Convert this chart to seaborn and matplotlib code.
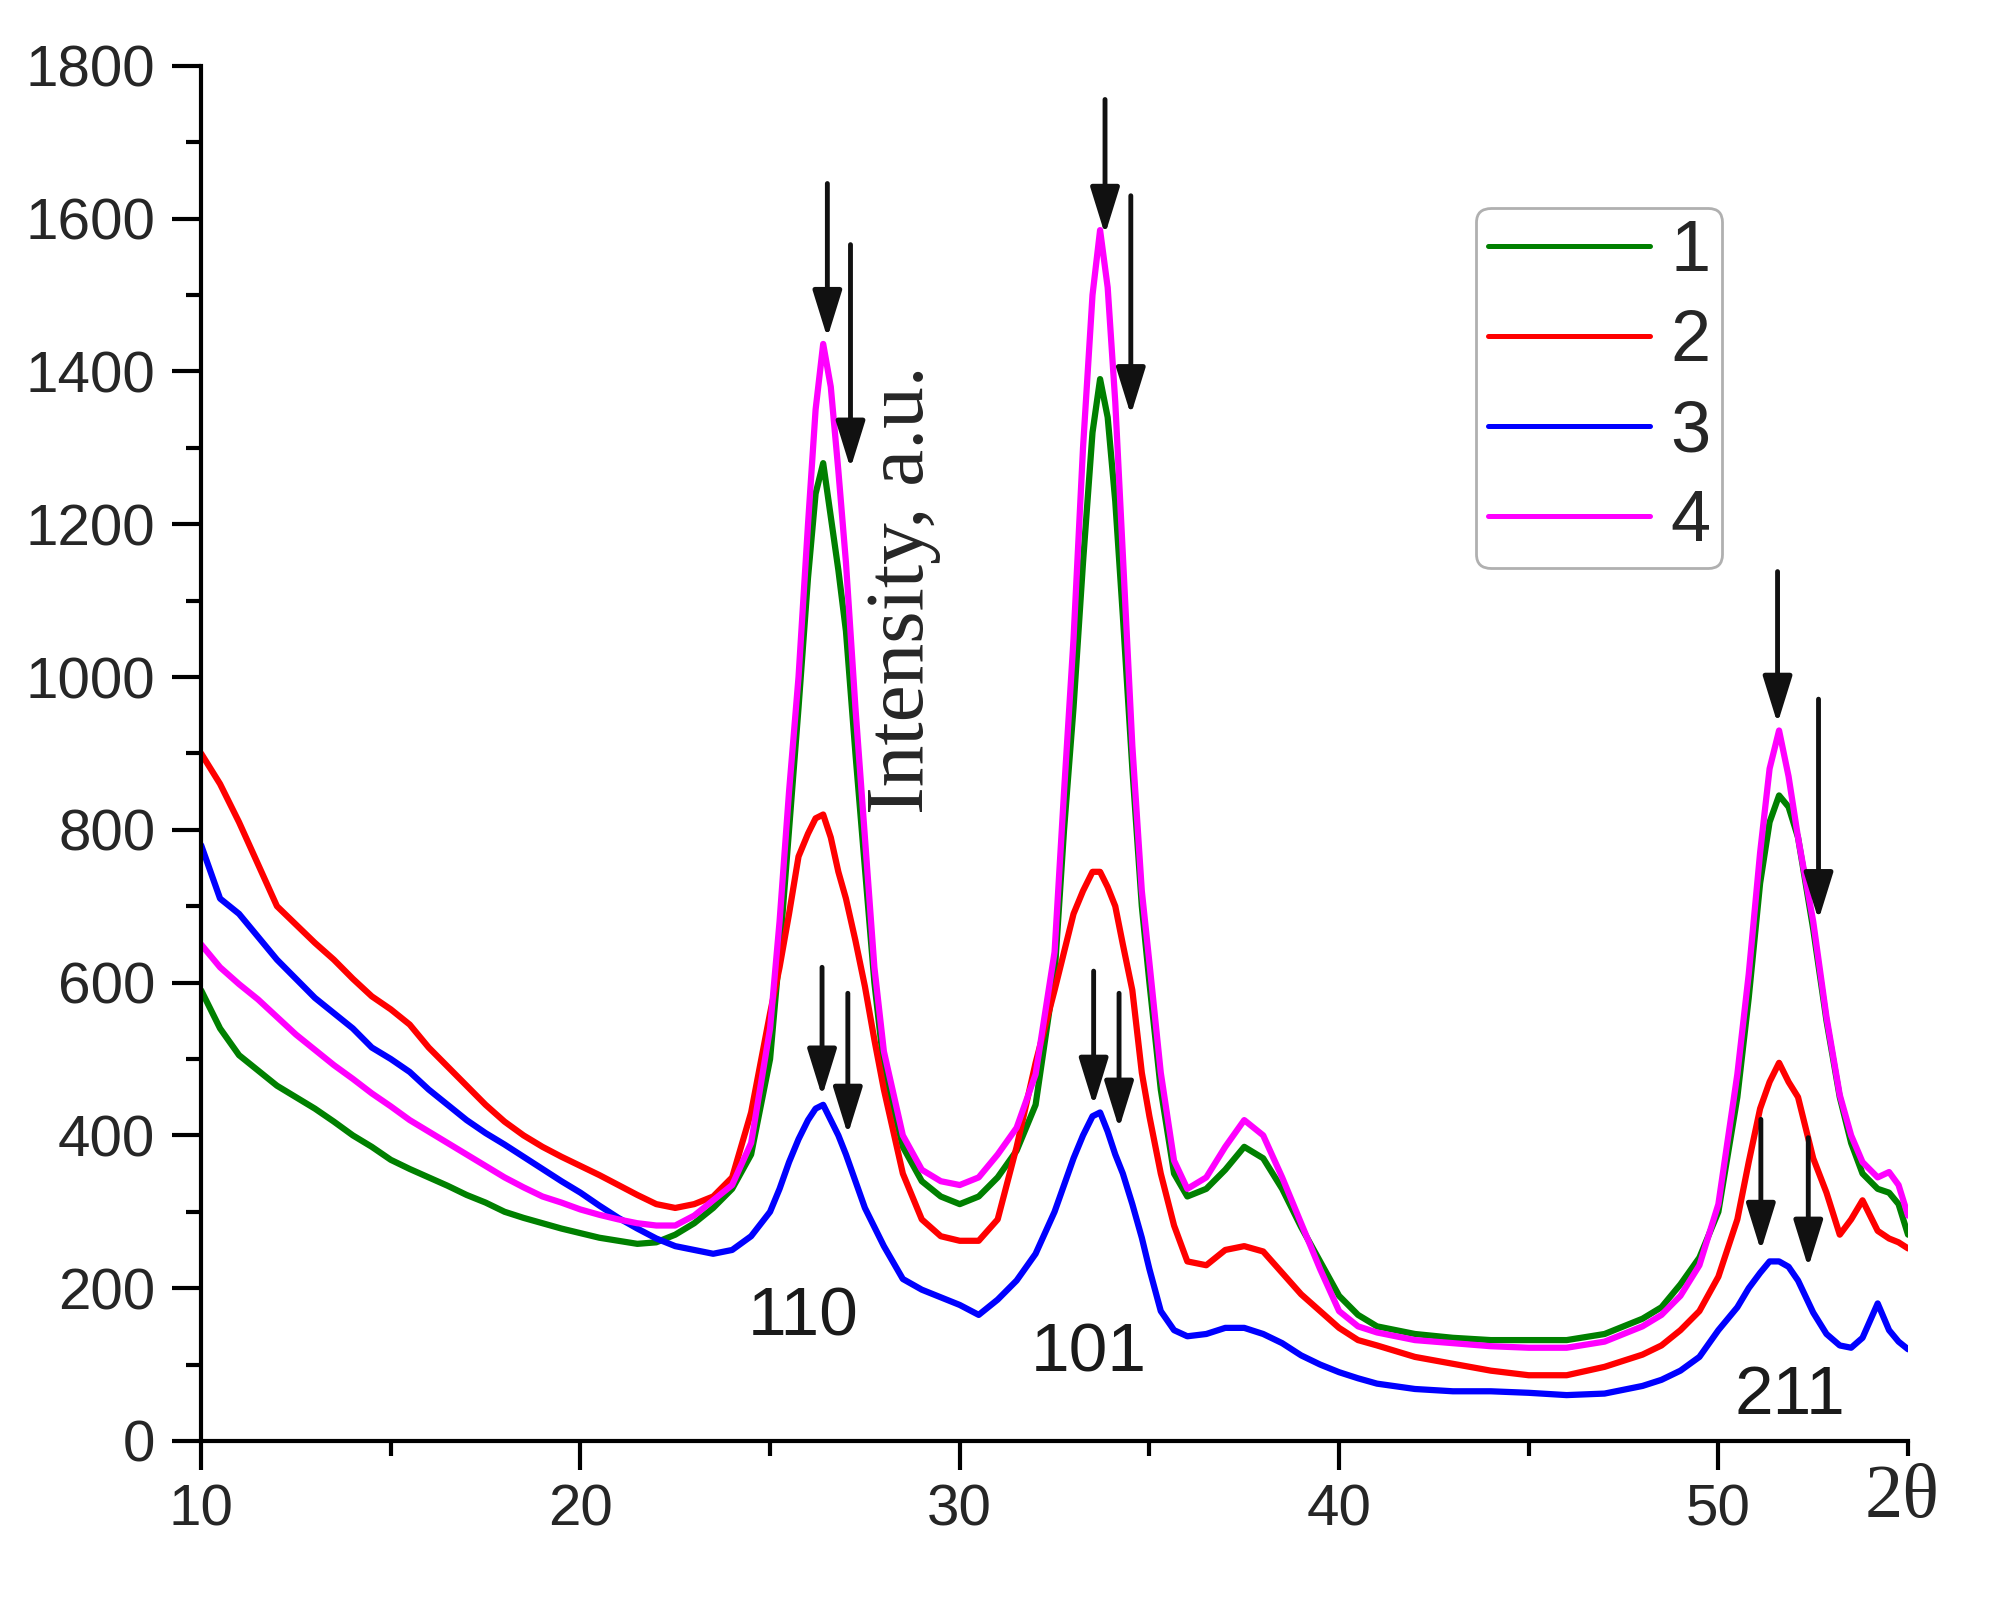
import pandas as pd
import matplotlib
matplotlib.use("Agg")
import matplotlib.pyplot as plt
import seaborn as sns
from matplotlib.lines import Line2D
from matplotlib.ticker import MultipleLocator

# === Данные ===
two_theta = [
    10, 10.5, 11, 11.5, 12, 12.5, 13, 13.5, 14, 14.5,
    15, 15.5, 16, 16.5, 17, 17.5, 18, 18.5, 19, 19.5,
    20, 20.5, 21, 21.5, 22, 22.5, 23, 23.5, 24, 24.5,
    25, 25.25, 25.5, 25.75, 26, 26.2, 26.4, 26.6, 26.8, 27,
    27.25, 27.5, 27.75, 28, 28.5, 29, 29.5, 30, 30.5, 31,
    31.5, 32, 32.5, 32.75, 33, 33.25, 33.5, 33.7, 33.9, 34.1,
    34.3, 34.55, 34.8, 35, 35.3, 35.65, 36, 36.5, 37, 37.5,
    38, 38.5, 39, 39.5, 40, 40.5, 41, 42, 43, 44,
    45, 46, 47, 48, 48.5, 49, 49.5, 50, 50.5, 50.8,
    51.1, 51.35, 51.6, 51.85, 52.1, 52.5, 52.85, 53.2, 53.5, 53.8,
    54.2, 54.5, 54.75, 55,
]

sample_1 = [
    590, 540, 505, 485, 465, 450, 435, 418, 400, 385,
    368, 356, 345, 334, 322, 312, 300, 292, 285, 278,
    272, 266, 262, 258, 260, 270, 285, 305, 330, 375,
    500, 640, 800, 960, 1130, 1240, 1280, 1210, 1140, 1060,
    900, 750, 600, 490, 385, 340, 320, 310, 320, 345,
    380, 440, 610, 800, 960, 1150, 1320, 1390, 1340, 1230,
    1080, 880, 700, 600, 460, 350, 320, 330, 355, 385,
    370, 330, 280, 235, 190, 165, 150, 140, 135, 132,
    132, 132, 140, 160, 175, 205, 240, 300, 450, 580,
    730, 810, 845, 830, 790, 670, 550, 450, 390, 350,
    330, 325, 310, 270,
]

sample_2 = [
    900, 860, 810, 755, 700, 676, 652, 630, 605, 582,
    565, 545, 515, 490, 465, 440, 418, 400, 385, 372,
    360, 348, 335, 322, 310, 305, 310, 320, 345, 430,
    560, 620, 690, 765, 795, 815, 820, 790, 745, 710,
    655, 595, 525, 460, 350, 290, 268, 262, 262, 290,
    385, 495, 590, 640, 690, 720, 745, 745, 725, 700,
    650, 590, 482, 425, 350, 282, 235, 230, 250, 255,
    248, 220, 192, 170, 148, 132, 125, 110, 101, 92,
    86, 86, 97, 113, 125, 145, 170, 215, 290, 365,
    435, 470, 495, 470, 450, 370, 325, 270, 290, 315,
    275, 265, 260, 252,
]

sample_3 = [
    780, 710, 690, 660, 630, 605, 580, 560, 540, 515,
    500, 483, 460, 440, 420, 403, 388, 372, 356, 340,
    325, 308, 292, 278, 265, 255, 250, 245, 250, 268,
    300, 330, 365, 395, 420, 435, 440, 420, 400, 375,
    340, 305, 280, 255, 212, 198, 188, 178, 165, 185,
    210, 245, 300, 335, 370, 400, 425, 430, 405, 375,
    350, 310, 266, 225, 170, 145, 137, 140, 148, 148,
    140, 128, 112, 100, 90, 82, 75, 68, 65, 65,
    63, 60, 62, 72, 80, 92, 110, 145, 175, 200,
    220, 235, 235, 228, 210, 168, 140, 125, 122, 135,
    180, 145, 130, 120,
]

sample_4 = [
    650, 620, 598, 578, 555, 532, 512, 492, 474, 455,
    438, 420, 405, 390, 375, 360, 345, 332, 320, 312,
    303, 296, 290, 285, 282, 282, 295, 315, 335, 390,
    540, 680, 850, 1000, 1200, 1350, 1436, 1380, 1270, 1150,
    960, 790, 620, 510, 400, 355, 340, 335, 345, 375,
    410, 480, 640, 850, 1050, 1300, 1500, 1585, 1510, 1360,
    1160, 910, 720, 626, 482, 367, 330, 345, 385, 420,
    400, 345, 285, 225, 170, 150, 142, 132, 128, 124,
    122, 122, 130, 150, 165, 190, 230, 310, 480, 611,
    770, 880, 930, 870, 790, 680, 555, 453, 400, 365,
    345, 352, 335, 295,
]

sample_names = ["1", "2", "3", "4"]
sample_colors = ["#008000", "#ff0000", "#0000ff", "#ff00ff"]

# Индексы рефлексов
peak_labels = ["110", "101", "211"]
peak_label_x = [25.88, 33.39, 51.88]
peak_label_y = [162, 114, 59]

# Стрелки: x, начало (y), острие (y)
arrow_x = [26.51, 27.12, 33.83, 34.51, 51.56, 52.64,
           26.37, 27.05, 33.53, 34.20, 51.12, 52.37]
arrow_tail = [1646, 1566, 1756, 1630, 1138, 971,
              620, 586, 615, 586, 421, 397]
arrow_tip = [1444, 1273, 1579, 1343, 939, 682,
             451, 401, 439, 409, 249, 227]

# === Таблица для seaborn ===
series = [sample_1, sample_2, sample_3, sample_4]
frames = []
for name, vals in zip(sample_names, series):
    frames.append(pd.DataFrame({"2θ": two_theta, "I": vals, "sample": name}))
df = pd.concat(frames, ignore_index=True)

sns.set_style("ticks")
plt.rcParams["font.family"] = ["Liberation Sans", "DejaVu Sans"]

fig = plt.figure(figsize=(20.11, 16.03), dpi=100)
ax = fig.add_axes([0.1, 0.1011, 0.8488, 0.8578])

sns.lineplot(data=df, x="2θ", y="I", hue="sample", palette=sample_colors,
             estimator=None, sort=False, linewidth=4.5, legend=False, ax=ax)

ax.set_xlim(10, 55)
ax.set_ylim(0, 1800)
ax.xaxis.set_major_locator(MultipleLocator(10))
ax.xaxis.set_minor_locator(MultipleLocator(5))
ax.yaxis.set_major_locator(MultipleLocator(200))
ax.yaxis.set_minor_locator(MultipleLocator(100))
ax.set_xlabel("")
ax.set_ylabel("")

for side in ["top", "right"]:
    ax.spines[side].set_visible(False)
for side in ["left", "bottom"]:
    ax.spines[side].set_linewidth(3)
    ax.spines[side].set_color("black")

ax.tick_params(which="major", direction="out", length=21, width=3,
               labelsize=42, labelcolor="#262626", color="black")
ax.tick_params(which="minor", direction="out", length=11, width=3, color="black")
ax.tick_params(axis="x", which="major", pad=10)
ax.tick_params(axis="y", which="major", pad=12)

# Стрелки
for x, y0, y1 in zip(arrow_x, arrow_tail, arrow_tip):
    ax.annotate("", xy=(x, y1), xytext=(x, y0),
                arrowprops=dict(arrowstyle="-|>,head_length=1.45,head_width=0.45",
                                mutation_scale=20, lw=3.5, color="#111111",
                                shrinkA=0, shrinkB=0))

for lab, x, y in zip(peak_labels, peak_label_x, peak_label_y):
    ax.text(x, y, lab, fontsize=50, ha="center", va="center", color="#1a1a1a")

ax.text(28.5, 1114, "Intensity, a.u.", rotation=90, fontsize=60,
        family=["Liberation Serif", "DejaVu Serif"], ha="center", va="center")
ax.text(54.85, -0.042, "2θ", transform=ax.get_xaxis_transform(), fontsize=55,
        family=["Liberation Serif", "DejaVu Serif"], ha="center", va="center",
        clip_on=False)

handles = [Line2D([0], [0], color=c, lw=3.6) for c in sample_colors]
leg = ax.legend(handles, sample_names, loc="upper left",
                bbox_to_anchor=(0.747, 0.897), borderaxespad=0,
                fontsize=52, handlelength=2.25, handletextpad=0.28,
                borderpad=0.16, labelspacing=0.32, frameon=True,
                fancybox=True, framealpha=1)
leg.get_frame().set_edgecolor("#b0b0b0")
leg.get_frame().set_linewidth(2)

fig.savefig("out.png", dpi=100)
